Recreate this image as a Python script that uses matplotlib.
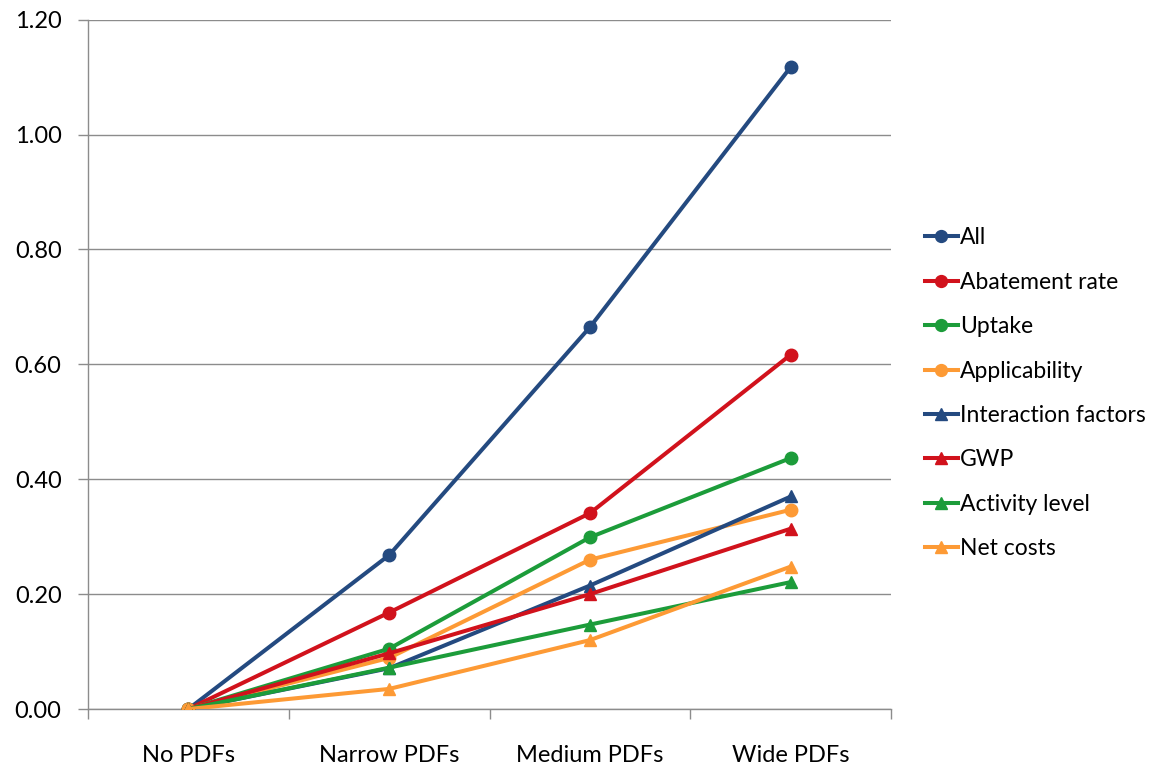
import numpy as np
import matplotlib
matplotlib.use("Agg")
import matplotlib.pyplot as plt

plt.rcParams['font.family'] = ['Lato', 'DejaVu Sans']

categories = ['No PDFs', 'Narrow PDFs', 'Medium PDFs', 'Wide PDFs']

all_vals = [0.0, 0.268, 0.665, 1.118]
abatement_rate = [0.0, 0.168, 0.341, 0.617]
uptake = [0.0, 0.105, 0.299, 0.437]
applicability = [0.0, 0.089, 0.260, 0.347]
interaction_factors = [0.0, 0.071, 0.215, 0.370]
gwp = [0.0, 0.097, 0.200, 0.314]
activity_level = [0.0, 0.072, 0.147, 0.221]
net_costs = [0.0, 0.035, 0.120, 0.248]

blue = '#244a80'
red = '#d1121c'
green = '#1c9c3a'
orange = '#fd9a35'

series = [
    ('All', all_vals, blue, 'o'),
    ('Abatement rate', abatement_rate, red, 'o'),
    ('Uptake', uptake, green, 'o'),
    ('Applicability', applicability, orange, 'o'),
    ('Interaction factors', interaction_factors, blue, '^'),
    ('GWP', gwp, red, '^'),
    ('Activity level', activity_level, green, '^'),
    ('Net costs', net_costs, orange, '^'),
]

fig = plt.figure(figsize=(11.71, 7.71), dpi=100)
ax = fig.add_axes([0.0751, 0.0804, 0.686, 0.894])

x = np.arange(len(categories))
for name, vals, col, mk in series:
    ax.plot(x, vals, color=col, marker=mk, markersize=9, linewidth=2.9,
            label=name, zorder=3)

ax.set_xlim(-0.5, len(categories) - 0.5)
ax.set_ylim(0, 1.2)
ax.set_yticks(np.arange(0, 1.21, 0.2))
ax.set_yticklabels([f'{v:.2f}' for v in np.arange(0, 1.21, 0.2)])
ax.yaxis.grid(True, color='#8c8c8c', linewidth=1.0)
ax.set_axisbelow(True)

# category labels centred, tick marks on the boundaries
ax.set_xticks(np.arange(-0.5, len(categories), 1.0))
ax.set_xticklabels([])
ax.set_xticks(x, minor=True)
ax.set_xticklabels(categories, minor=True)
ax.tick_params(axis='x', which='minor', length=0, pad=26, labelsize=17)
ax.tick_params(axis='x', which='major', length=7, color='#8c8c8c', width=1)
ax.tick_params(axis='y', length=7, color='#8c8c8c', width=1, labelsize=17, pad=12)

for side in ['top', 'right']:
    ax.spines[side].set_visible(False)
for side in ['left', 'bottom']:
    ax.spines[side].set_color('#8c8c8c')
    ax.spines[side].set_linewidth(1)

leg = fig.legend(loc='center left', bbox_to_anchor=(0.776, 0.490), frameon=False,
                 fontsize=16.5, handlelength=1.45, handletextpad=0.1,
                 labelspacing=1.02, markerscale=0.95, borderpad=0.2)

fig.savefig('out.png', dpi=100)
